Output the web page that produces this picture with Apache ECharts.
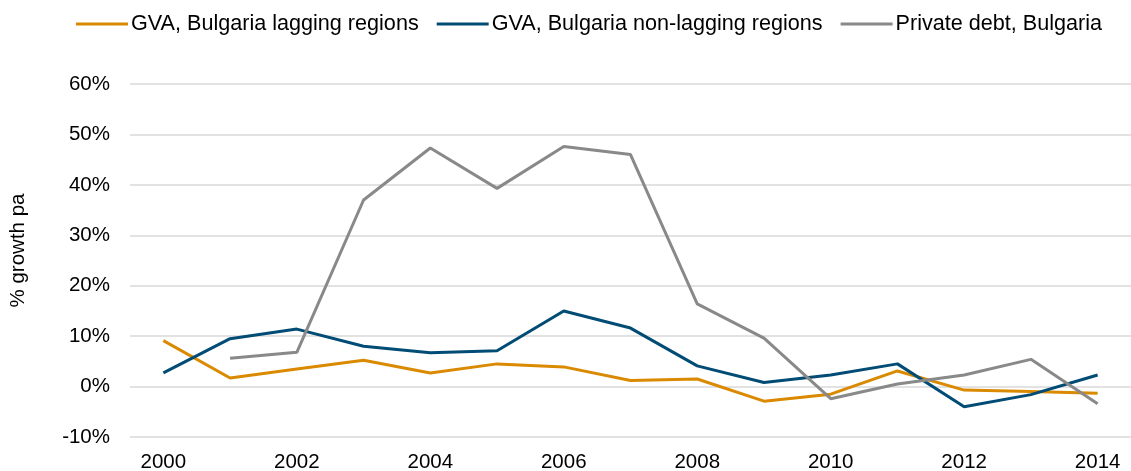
<!DOCTYPE html>
<html>
<head>
<meta charset="utf-8">
<script src="https://cdn.jsdelivr.net/npm/echarts@6/dist/echarts.min.js"></script>
<style>
  html, body { margin: 0; padding: 0; background: #fff; }
  #chart { width: 1131px; height: 471px; }
</style>
</head>
<body>
<div id="chart"></div>
<script>
const years = ['2000', '2001', '2002', '2003', '2004', '2005', '2006', '2007',
  '2008', '2009', '2010', '2011', '2012', '2013', '2014']
const lagging = [9.1, 1.7, 3.5, 5.2, 2.7, 4.5, 3.9, 1.2, 1.5, -2.9, -1.5, 3.1, -0.7, -1.0, -1.3]
const nonLagging = [2.7, 9.5, 11.4, 8.0, 6.7, 7.1, 15.0, 11.6, 4.1, 0.8, 2.3, 4.5, -4.0, -1.6, 2.3]
const privateDebt = [null, 5.6, 6.8, 37.0, 47.3, 39.3, 47.6, 46.0, 16.4, 9.6, -2.4, 0.5, 2.3, 5.4, -3.4]

const chart = echarts.init(document.getElementById('chart'))
const font = 'Liberation Sans, Arial, sans-serif'

const line = (name, data, color) => ({
  name,
  type: 'line',
  data,
  symbol: 'none',
  lineStyle: { color, width: 3 },
  itemStyle: { color }
})

chart.setOption({
  animation: false,
  textStyle: { fontFamily: font },
  legend: {
    top: 8,
    left: 71,
    itemWidth: 52,
    itemHeight: 3,
    itemGap: 18,
    icon: 'rect',
    textStyle: { fontSize: 21.6, color: '#000', fontFamily: font, padding: [0, 0, 0, -2] },
    data: ['GVA, Bulgaria lagging regions', 'GVA, Bulgaria non-lagging regions', 'Private debt, Bulgaria']
  },
  grid: {
    left: 130,
    right: 0,
    top: 84,
    bottom: 34,
    containLabel: false,
    outerBoundsMode: 'none'
  },
  xAxis: {
    type: 'category',
    data: years,
    axisLine: { show: false },
    axisTick: { show: false },
    axisLabel: { interval: 1, fontSize: 20.5, color: '#000', margin: 15, fontFamily: font }
  },
  yAxis: {
    type: 'value',
    min: -10,
    max: 60,
    interval: 10,
    name: '% growth pa',
    nameLocation: 'middle',
    nameGap: 101,
    nameTextStyle: { fontSize: 20.5, color: '#000', fontFamily: font, padding: [0, 0, 0, 20] },
    axisLabel: { formatter: '{value}%', fontSize: 20.5, color: '#000', margin: 20, fontFamily: font },
    splitLine: { lineStyle: { color: '#d9d9d9', width: 1.5 } }
  },
  series: [
    line('GVA, Bulgaria lagging regions', lagging, '#DA8A00'),
    line('GVA, Bulgaria non-lagging regions', nonLagging, '#004C75'),
    line('Private debt, Bulgaria', privateDebt, '#898989')
  ]
})

window.addEventListener('resize', () => chart.resize())
</script>
</body>
</html>
